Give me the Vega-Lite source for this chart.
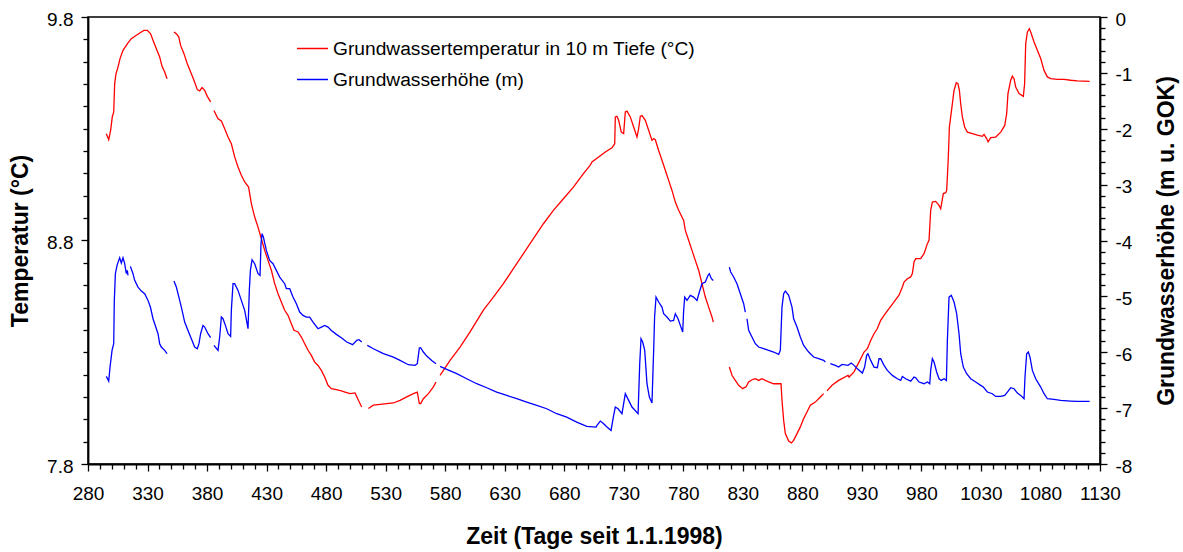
{
"$schema": "https://vega.github.io/schema/vega-lite/v6.json",
"width": 1012, "height": 447,
"autosize": {"type": "none"},
"padding": {"left": 88, "top": 17, "right": 83, "bottom": 88},
"background": "white",
"config": {
 "view": {"stroke": "black", "strokeWidth": 1.5},
 "font": "Liberation Sans",
 "axis": {"domainColor": "black", "domainWidth": 1.8, "tickColor": "black", "tickWidth": 1.3, "labelFont": "Liberation Sans", "labelFontSize": 19, "labelColor": "black", "titleFont": "Liberation Sans", "titleFontSize": 23, "titleFontWeight": "bold", "titleColor": "black", "grid": false, "labelOverlap": false, "labelFlush": false}
},
"datasets": {
"temp": [
{"day":295.4,"temp":9.278,"seg":1},{"day":297.4,"temp":9.251,"seg":1},{"day":299.0,"temp":9.293,"seg":1},{"day":300.4,"temp":9.353,"seg":1},{"day":301.6,"temp":9.375,"seg":1},{"day":302.4,"temp":9.502,"seg":1},{"day":303.5,"temp":9.546,"seg":1},{"day":305.2,"temp":9.576,"seg":1},{"day":306.9,"temp":9.614,"seg":1},{"day":309.4,"temp":9.651,"seg":1},{"day":312.2,"temp":9.673,"seg":1},{"day":313.6,"temp":9.684,"seg":1},{"day":316.4,"temp":9.703,"seg":1},{"day":320.6,"temp":9.718,"seg":1},{"day":324.8,"temp":9.733,"seg":1},{"day":327.0,"temp":9.740,"seg":1},{"day":329.8,"temp":9.740,"seg":1},{"day":332.6,"temp":9.725,"seg":1},{"day":334.6,"temp":9.696,"seg":1},{"day":337.4,"temp":9.658,"seg":1},{"day":340.2,"temp":9.621,"seg":1},{"day":342.2,"temp":9.579,"seg":1},{"day":344.4,"temp":9.554,"seg":1},{"day":346.4,"temp":9.524,"seg":1},
{"day":352.2,"temp":9.733,"seg":2},{"day":354.2,"temp":9.725,"seg":2},{"day":356.2,"temp":9.711,"seg":2},{"day":357.8,"temp":9.673,"seg":2},{"day":360.6,"temp":9.636,"seg":2},{"day":363.4,"temp":9.591,"seg":2},{"day":366.2,"temp":9.554,"seg":2},{"day":369.0,"temp":9.517,"seg":2},{"day":371.8,"temp":9.475,"seg":2},{"day":373.8,"temp":9.469,"seg":2},{"day":375.8,"temp":9.484,"seg":2},{"day":378.0,"temp":9.472,"seg":2},{"day":380.2,"temp":9.445,"seg":2},{"day":383.0,"temp":9.420,"seg":2},
{"day":385.8,"temp":9.382,"seg":3},{"day":389.2,"temp":9.345,"seg":3},{"day":392.0,"temp":9.335,"seg":3},{"day":394.8,"temp":9.300,"seg":3},{"day":397.6,"temp":9.263,"seg":3},{"day":400.4,"temp":9.233,"seg":3},{"day":403.2,"temp":9.174,"seg":3},{"day":406.0,"temp":9.129,"seg":3},{"day":408.8,"temp":9.092,"seg":3},{"day":411.6,"temp":9.062,"seg":3},{"day":414.9,"temp":9.039,"seg":3},{"day":417.2,"temp":8.965,"seg":3},{"day":420.0,"temp":8.905,"seg":3},{"day":422.8,"temp":8.860,"seg":3},{"day":425.6,"temp":8.808,"seg":3},{"day":428.4,"temp":8.756,"seg":3},{"day":431.2,"temp":8.711,"seg":3},{"day":434.0,"temp":8.667,"seg":3},{"day":436.8,"temp":8.607,"seg":3},{"day":439.6,"temp":8.562,"seg":3},{"day":442.4,"temp":8.525,"seg":3},{"day":445.2,"temp":8.488,"seg":3},{"day":448.0,"temp":8.465,"seg":3},{"day":450.8,"temp":8.428,"seg":3},{"day":453.0,"temp":8.398,"seg":3},{"day":456.4,"temp":8.391,"seg":3},{"day":459.2,"temp":8.368,"seg":3},{"day":462.0,"temp":8.338,"seg":3},{"day":464.8,"temp":8.309,"seg":3},{"day":467.6,"temp":8.286,"seg":3},{"day":470.4,"temp":8.256,"seg":3},{"day":473.2,"temp":8.241,"seg":3},{"day":476.0,"temp":8.219,"seg":3},{"day":478.8,"temp":8.189,"seg":3},{"day":481.6,"temp":8.152,"seg":3},{"day":484.4,"temp":8.137,"seg":3},{"day":488.6,"temp":8.133,"seg":3},{"day":492.8,"temp":8.127,"seg":3},{"day":495.9,"temp":8.122,"seg":3},{"day":500.1,"temp":8.115,"seg":3},{"day":504.3,"temp":8.118,"seg":3},{"day":507.1,"temp":8.085,"seg":3},{"day":509.9,"temp":8.055,"seg":3},
{"day":515.5,"temp":8.048,"seg":4},{"day":519.7,"temp":8.063,"seg":4},{"day":525.3,"temp":8.067,"seg":4},{"day":530.9,"temp":8.070,"seg":4},{"day":536.5,"temp":8.073,"seg":4},{"day":542.1,"temp":8.085,"seg":4},{"day":547.7,"temp":8.100,"seg":4},{"day":553.3,"temp":8.115,"seg":4},{"day":556.6,"temp":8.122,"seg":4},{"day":558.3,"temp":8.070,"seg":4},{"day":559.4,"temp":8.070,"seg":4},{"day":561.7,"temp":8.092,"seg":4},{"day":565.9,"temp":8.115,"seg":4},{"day":570.1,"temp":8.145,"seg":4},{"day":572.3,"temp":8.167,"seg":4},
{"day":575.7,"temp":8.197,"seg":5},{"day":578.5,"temp":8.219,"seg":5},{"day":584.1,"temp":8.264,"seg":5},{"day":592.5,"temp":8.323,"seg":5},{"day":600.9,"temp":8.391,"seg":5},{"day":612.1,"temp":8.488,"seg":5},{"day":620.5,"temp":8.547,"seg":5},{"day":628.9,"temp":8.607,"seg":5},{"day":637.3,"temp":8.674,"seg":5},{"day":645.7,"temp":8.741,"seg":5},{"day":654.1,"temp":8.808,"seg":5},{"day":662.5,"temp":8.875,"seg":5},{"day":670.9,"temp":8.935,"seg":5},{"day":679.3,"temp":8.987,"seg":5},{"day":687.7,"temp":9.039,"seg":5},{"day":696.1,"temp":9.099,"seg":5},{"day":701.7,"temp":9.136,"seg":5},{"day":703.3,"temp":9.151,"seg":5},{"day":708.9,"temp":9.174,"seg":5},{"day":714.5,"temp":9.196,"seg":5},{"day":720.1,"temp":9.215,"seg":5},{"day":722.4,"temp":9.233,"seg":5},{"day":722.9,"temp":9.353,"seg":5},{"day":724.3,"temp":9.356,"seg":5},{"day":725.7,"temp":9.338,"seg":5},{"day":727.9,"temp":9.285,"seg":5},{"day":729.9,"temp":9.278,"seg":5},{"day":731.3,"temp":9.375,"seg":5},{"day":732.7,"temp":9.379,"seg":5},{"day":735.5,"temp":9.353,"seg":5},{"day":738.3,"temp":9.308,"seg":5},{"day":741.1,"temp":9.263,"seg":5},{"day":742.5,"temp":9.300,"seg":5},{"day":743.9,"temp":9.356,"seg":5},{"day":745.3,"temp":9.359,"seg":5},{"day":748.1,"temp":9.338,"seg":5},{"day":750.9,"temp":9.293,"seg":5},{"day":753.7,"temp":9.248,"seg":5},{"day":755.1,"temp":9.256,"seg":5},{"day":756.5,"temp":9.251,"seg":5},{"day":759.3,"temp":9.203,"seg":5},{"day":762.1,"temp":9.159,"seg":5},{"day":764.9,"temp":9.114,"seg":5},{"day":767.7,"temp":9.069,"seg":5},{"day":770.5,"temp":9.024,"seg":5},{"day":773.3,"temp":8.972,"seg":5},{"day":776.1,"temp":8.935,"seg":5},{"day":778.9,"temp":8.905,"seg":5},{"day":780.3,"temp":8.890,"seg":5},{"day":781.7,"temp":8.845,"seg":5},{"day":784.5,"temp":8.801,"seg":5},{"day":787.3,"temp":8.756,"seg":5},{"day":790.1,"temp":8.711,"seg":5},{"day":792.9,"temp":8.667,"seg":5},{"day":795.7,"temp":8.607,"seg":5},{"day":798.5,"temp":8.547,"seg":5},{"day":801.3,"temp":8.502,"seg":5},{"day":804.1,"temp":8.458,"seg":5},{"day":805.2,"temp":8.435,"seg":5},
{"day":818.7,"temp":8.234,"seg":6},{"day":820.9,"temp":8.197,"seg":6},{"day":823.7,"temp":8.174,"seg":6},{"day":826.5,"temp":8.152,"seg":6},{"day":829.9,"temp":8.137,"seg":6},{"day":832.7,"temp":8.145,"seg":6},{"day":834.9,"temp":8.167,"seg":6},{"day":837.7,"temp":8.177,"seg":6},{"day":840.5,"temp":8.182,"seg":6},{"day":843.3,"temp":8.174,"seg":6},{"day":846.1,"temp":8.182,"seg":6},{"day":848.9,"temp":8.174,"seg":6},{"day":851.7,"temp":8.167,"seg":6},{"day":855.9,"temp":8.159,"seg":6},{"day":862.1,"temp":8.159,"seg":6},{"day":862.9,"temp":8.085,"seg":6},{"day":864.3,"temp":7.995,"seg":6},{"day":865.7,"temp":7.936,"seg":6},{"day":868.5,"temp":7.903,"seg":6},{"day":870.8,"temp":7.894,"seg":6},{"day":872.7,"temp":7.906,"seg":6},{"day":875.5,"temp":7.936,"seg":6},{"day":878.3,"temp":7.966,"seg":6},{"day":881.1,"temp":8.003,"seg":6},{"day":883.9,"temp":8.033,"seg":6},{"day":886.7,"temp":8.063,"seg":6},{"day":890.9,"temp":8.077,"seg":6},{"day":895.1,"temp":8.100,"seg":6},{"day":897.9,"temp":8.115,"seg":6},
{"day":900.7,"temp":8.127,"seg":7},{"day":904.9,"temp":8.152,"seg":7},{"day":910.5,"temp":8.174,"seg":7},{"day":913.3,"temp":8.182,"seg":7},{"day":918.4,"temp":8.197,"seg":7},{"day":919.2,"temp":8.189,"seg":7},{"day":923.4,"temp":8.212,"seg":7},{"day":927.6,"temp":8.256,"seg":7},{"day":931.8,"temp":8.301,"seg":7},{"day":934.6,"temp":8.316,"seg":7},{"day":937.4,"temp":8.353,"seg":7},{"day":940.2,"temp":8.383,"seg":7},{"day":943.0,"temp":8.406,"seg":7},{"day":945.8,"temp":8.443,"seg":7},{"day":948.6,"temp":8.465,"seg":7},{"day":952.8,"temp":8.495,"seg":7},{"day":957.0,"temp":8.525,"seg":7},{"day":961.2,"temp":8.555,"seg":7},{"day":964.0,"temp":8.592,"seg":7},{"day":965.4,"temp":8.614,"seg":7},{"day":968.2,"temp":8.629,"seg":7},{"day":971.0,"temp":8.637,"seg":7},{"day":972.4,"temp":8.652,"seg":7},{"day":973.8,"temp":8.704,"seg":7},{"day":975.2,"temp":8.719,"seg":7},{"day":979.4,"temp":8.719,"seg":7},{"day":982.2,"temp":8.741,"seg":7},{"day":985.0,"temp":8.786,"seg":7},{"day":986.4,"temp":8.801,"seg":7},{"day":987.8,"temp":8.935,"seg":7},{"day":989.2,"temp":8.972,"seg":7},{"day":992.0,"temp":8.975,"seg":7},{"day":994.8,"temp":8.957,"seg":7},{"day":996.2,"temp":8.942,"seg":7},{"day":998.4,"temp":9.010,"seg":7},{"day":1000.4,"temp":9.014,"seg":7},{"day":1001.2,"temp":9.024,"seg":7},{"day":1001.8,"temp":9.084,"seg":7},{"day":1002.6,"temp":9.174,"seg":7},{"day":1003.5,"temp":9.308,"seg":7},{"day":1004.6,"temp":9.353,"seg":7},{"day":1006.0,"temp":9.412,"seg":7},{"day":1007.4,"temp":9.472,"seg":7},{"day":1009.3,"temp":9.506,"seg":7},{"day":1010.7,"temp":9.502,"seg":7},{"day":1011.9,"temp":9.472,"seg":7},{"day":1013.0,"temp":9.412,"seg":7},{"day":1014.4,"temp":9.353,"seg":7},{"day":1016.3,"temp":9.308,"seg":7},{"day":1018.6,"temp":9.285,"seg":7},{"day":1022.8,"temp":9.278,"seg":7},{"day":1027.0,"temp":9.271,"seg":7},{"day":1031.2,"temp":9.266,"seg":7},{"day":1032.6,"temp":9.275,"seg":7},{"day":1034.8,"temp":9.256,"seg":7},{"day":1036.0,"temp":9.241,"seg":7},{"day":1038.2,"temp":9.260,"seg":7},{"day":1042.4,"temp":9.263,"seg":7},{"day":1046.6,"temp":9.285,"seg":7},{"day":1050.0,"temp":9.315,"seg":7},{"day":1051.6,"temp":9.367,"seg":7},{"day":1052.7,"temp":9.457,"seg":7},{"day":1055.0,"temp":9.517,"seg":7},{"day":1056.4,"temp":9.535,"seg":7},{"day":1057.8,"temp":9.524,"seg":7},{"day":1059.2,"temp":9.487,"seg":7},{"day":1062.0,"temp":9.457,"seg":7},{"day":1065.6,"temp":9.445,"seg":7},{"day":1066.7,"temp":9.502,"seg":7},{"day":1067.6,"temp":9.681,"seg":7},{"day":1069.0,"temp":9.733,"seg":7},{"day":1070.7,"temp":9.748,"seg":7},{"day":1072.3,"temp":9.725,"seg":7},{"day":1074.6,"temp":9.688,"seg":7},{"day":1077.4,"temp":9.651,"seg":7},{"day":1080.2,"temp":9.614,"seg":7},{"day":1083.0,"temp":9.561,"seg":7},{"day":1085.8,"temp":9.532,"seg":7},{"day":1088.6,"temp":9.524,"seg":7},{"day":1094.2,"temp":9.521,"seg":7},{"day":1099.8,"temp":9.521,"seg":7},{"day":1105.4,"temp":9.517,"seg":7},{"day":1111.0,"temp":9.514,"seg":7},{"day":1121.3,"temp":9.512,"seg":7}
],
"level": [
{"day":295.4,"level":-6.432,"seg":1},{"day":297.4,"level":-6.516,"seg":1},{"day":298.5,"level":-6.265,"seg":1},{"day":300.2,"level":-5.967,"seg":1},{"day":301.6,"level":-5.847,"seg":1},{"day":302.1,"level":-5.072,"seg":1},{"day":303.0,"level":-4.594,"seg":1},{"day":304.4,"level":-4.445,"seg":1},{"day":305.8,"level":-4.356,"seg":1},{"day":306.6,"level":-4.308,"seg":1},{"day":308.0,"level":-4.403,"seg":1},{"day":309.4,"level":-4.308,"seg":1},{"day":310.8,"level":-4.415,"seg":1},{"day":312.2,"level":-4.594,"seg":1},{"day":313.0,"level":-4.535,"seg":1},{"day":313.6,"level":-4.624,"seg":1},
{"day":315.6,"level":-4.463,"seg":2},{"day":317.8,"level":-4.594,"seg":2},{"day":319.2,"level":-4.714,"seg":2},{"day":322.0,"level":-4.833,"seg":2},{"day":324.8,"level":-4.905,"seg":2},{"day":327.6,"level":-4.952,"seg":2},{"day":330.4,"level":-5.072,"seg":2},{"day":332.4,"level":-5.191,"seg":2},{"day":334.6,"level":-5.400,"seg":2},{"day":337.4,"level":-5.579,"seg":2},{"day":338.8,"level":-5.668,"seg":2},{"day":340.2,"level":-5.847,"seg":2},{"day":341.6,"level":-5.907,"seg":2},{"day":344.4,"level":-5.967,"seg":2},{"day":346.4,"level":-6.026,"seg":2},
{"day":352.2,"level":-4.726,"seg":3},{"day":354.2,"level":-4.833,"seg":3},{"day":355.6,"level":-4.952,"seg":3},{"day":358.4,"level":-5.191,"seg":3},{"day":361.2,"level":-5.459,"seg":3},{"day":364.0,"level":-5.609,"seg":3},{"day":366.8,"level":-5.758,"seg":3},{"day":369.6,"level":-5.907,"seg":3},{"day":371.8,"level":-5.937,"seg":3},{"day":373.2,"level":-5.847,"seg":3},{"day":374.6,"level":-5.668,"seg":3},{"day":376.6,"level":-5.519,"seg":3},{"day":378.0,"level":-5.549,"seg":3},{"day":380.8,"level":-5.668,"seg":3},{"day":383.0,"level":-5.740,"seg":3},
{"day":385.8,"level":-5.877,"seg":4},{"day":389.2,"level":-5.967,"seg":4},{"day":390.6,"level":-5.728,"seg":4},{"day":392.0,"level":-5.370,"seg":4},{"day":393.4,"level":-5.400,"seg":4},{"day":395.4,"level":-5.519,"seg":4},{"day":397.6,"level":-5.668,"seg":4},{"day":399.8,"level":-5.716,"seg":4},{"day":400.4,"level":-5.251,"seg":4},{"day":401.8,"level":-4.773,"seg":4},{"day":403.2,"level":-4.773,"seg":4},{"day":406.0,"level":-4.893,"seg":4},{"day":408.8,"level":-5.072,"seg":4},{"day":411.6,"level":-5.251,"seg":4},{"day":414.4,"level":-5.579,"seg":4},{"day":415.5,"level":-4.893,"seg":4},{"day":416.4,"level":-4.535,"seg":4},{"day":417.8,"level":-4.344,"seg":4},{"day":420.0,"level":-4.415,"seg":4},{"day":422.8,"level":-4.594,"seg":4},{"day":424.5,"level":-4.624,"seg":4},{"day":425.3,"level":-4.057,"seg":4},{"day":426.2,"level":-3.878,"seg":4},{"day":427.3,"level":-3.938,"seg":4},{"day":429.8,"level":-4.177,"seg":4},{"day":432.6,"level":-4.356,"seg":4},{"day":435.4,"level":-4.415,"seg":4},{"day":438.2,"level":-4.535,"seg":4},{"day":441.0,"level":-4.654,"seg":4},{"day":445.2,"level":-4.773,"seg":4},{"day":446.6,"level":-4.863,"seg":4},{"day":449.4,"level":-4.863,"seg":4},{"day":452.2,"level":-5.012,"seg":4},{"day":455.0,"level":-5.131,"seg":4},{"day":457.8,"level":-5.280,"seg":4},{"day":460.6,"level":-5.340,"seg":4},{"day":463.4,"level":-5.370,"seg":4},{"day":466.2,"level":-5.370,"seg":4},{"day":469.0,"level":-5.459,"seg":4},{"day":473.2,"level":-5.579,"seg":4},{"day":476.0,"level":-5.549,"seg":4},{"day":478.8,"level":-5.519,"seg":4},{"day":481.6,"level":-5.549,"seg":4},{"day":484.4,"level":-5.609,"seg":4},{"day":488.6,"level":-5.680,"seg":4},{"day":492.8,"level":-5.740,"seg":4},{"day":497.3,"level":-5.817,"seg":4},{"day":502.3,"level":-5.865,"seg":4},{"day":505.7,"level":-5.788,"seg":4},{"day":507.6,"level":-5.776,"seg":4},{"day":509.9,"level":-5.817,"seg":4},
{"day":514.6,"level":-5.877,"seg":5},{"day":519.7,"level":-5.937,"seg":5},{"day":528.1,"level":-6.026,"seg":5},{"day":536.5,"level":-6.086,"seg":5},{"day":542.1,"level":-6.146,"seg":5},{"day":549.1,"level":-6.223,"seg":5},{"day":554.7,"level":-6.235,"seg":5},{"day":556.6,"level":-6.205,"seg":5},{"day":558.3,"level":-5.925,"seg":5},{"day":559.4,"level":-5.919,"seg":5},{"day":561.7,"level":-5.996,"seg":5},{"day":564.5,"level":-6.068,"seg":5},{"day":568.7,"level":-6.146,"seg":5},{"day":572.3,"level":-6.205,"seg":5},
{"day":575.7,"level":-6.253,"seg":6},{"day":581.3,"level":-6.307,"seg":6},{"day":589.7,"level":-6.384,"seg":6},{"day":598.1,"level":-6.474,"seg":6},{"day":606.5,"level":-6.563,"seg":6},{"day":614.9,"level":-6.635,"seg":6},{"day":623.3,"level":-6.712,"seg":6},{"day":631.7,"level":-6.772,"seg":6},{"day":640.1,"level":-6.832,"seg":6},{"day":648.5,"level":-6.892,"seg":6},{"day":656.9,"level":-6.951,"seg":6},{"day":665.3,"level":-7.011,"seg":6},{"day":673.7,"level":-7.100,"seg":6},{"day":682.1,"level":-7.160,"seg":6},{"day":690.5,"level":-7.249,"seg":6},{"day":698.9,"level":-7.327,"seg":6},{"day":706.7,"level":-7.339,"seg":6},{"day":707.5,"level":-7.309,"seg":6},{"day":710.3,"level":-7.232,"seg":6},{"day":713.1,"level":-7.279,"seg":6},{"day":715.9,"level":-7.339,"seg":6},{"day":719.3,"level":-7.399,"seg":6},{"day":721.5,"level":-7.130,"seg":6},{"day":722.9,"level":-6.981,"seg":6},{"day":725.2,"level":-7.011,"seg":6},{"day":728.5,"level":-7.100,"seg":6},{"day":731.3,"level":-6.742,"seg":6},{"day":734.1,"level":-6.862,"seg":6},{"day":736.9,"level":-6.981,"seg":6},{"day":742.0,"level":-7.100,"seg":6},{"day":743.4,"level":-6.205,"seg":6},{"day":744.5,"level":-5.758,"seg":6},{"day":745.9,"level":-5.817,"seg":6},{"day":747.6,"level":-5.967,"seg":6},{"day":749.5,"level":-6.563,"seg":6},{"day":751.5,"level":-6.802,"seg":6},{"day":753.7,"level":-6.909,"seg":6},{"day":755.1,"level":-5.967,"seg":6},{"day":755.9,"level":-5.370,"seg":6},{"day":757.1,"level":-5.012,"seg":6},{"day":759.3,"level":-5.101,"seg":6},{"day":762.1,"level":-5.191,"seg":6},{"day":763.5,"level":-5.310,"seg":6},{"day":766.3,"level":-5.370,"seg":6},{"day":769.1,"level":-5.442,"seg":6},{"day":771.9,"level":-5.430,"seg":6},{"day":773.3,"level":-5.310,"seg":6},{"day":775.6,"level":-5.400,"seg":6},{"day":777.5,"level":-5.519,"seg":6},{"day":779.5,"level":-5.638,"seg":6},{"day":780.3,"level":-5.251,"seg":6},{"day":781.2,"level":-5.012,"seg":6},{"day":783.1,"level":-5.072,"seg":6},{"day":785.9,"level":-4.982,"seg":6},{"day":788.7,"level":-5.012,"seg":6},{"day":791.5,"level":-5.072,"seg":6},{"day":793.5,"level":-4.922,"seg":6},{"day":795.7,"level":-4.773,"seg":6},{"day":798.5,"level":-4.743,"seg":6},{"day":800.8,"level":-4.624,"seg":6},{"day":801.9,"level":-4.594,"seg":6},{"day":803.6,"level":-4.684,"seg":6},{"day":805.2,"level":-4.714,"seg":6},
{"day":818.7,"level":-4.475,"seg":7},{"day":819.8,"level":-4.564,"seg":7},{"day":822.3,"level":-4.654,"seg":7},{"day":825.1,"level":-4.773,"seg":7},{"day":827.9,"level":-4.952,"seg":7},{"day":830.7,"level":-5.131,"seg":7},{"day":832.1,"level":-5.280,"seg":7},
{"day":833.5,"level":-5.400,"seg":8},{"day":834.9,"level":-5.609,"seg":8},{"day":837.7,"level":-5.728,"seg":8},{"day":840.5,"level":-5.847,"seg":8},{"day":843.3,"level":-5.907,"seg":8},{"day":847.5,"level":-5.937,"seg":8},{"day":851.7,"level":-5.967,"seg":8},{"day":855.9,"level":-5.996,"seg":8},{"day":860.1,"level":-6.038,"seg":8},{"day":861.5,"level":-5.967,"seg":8},{"day":862.9,"level":-5.191,"seg":8},{"day":864.3,"level":-4.952,"seg":8},{"day":865.7,"level":-4.905,"seg":8},{"day":868.5,"level":-4.982,"seg":8},{"day":871.3,"level":-5.191,"seg":8},{"day":872.7,"level":-5.400,"seg":8},{"day":875.5,"level":-5.549,"seg":8},{"day":878.3,"level":-5.728,"seg":8},{"day":881.1,"level":-5.877,"seg":8},{"day":885.3,"level":-5.996,"seg":8},{"day":889.5,"level":-6.086,"seg":8},{"day":893.7,"level":-6.116,"seg":8},{"day":897.9,"level":-6.146,"seg":8},{"day":899.3,"level":-6.175,"seg":8},
{"day":903.5,"level":-6.205,"seg":9},{"day":907.7,"level":-6.235,"seg":9},{"day":910.5,"level":-6.265,"seg":9},{"day":913.3,"level":-6.217,"seg":9},{"day":918.4,"level":-6.235,"seg":9},{"day":921.1,"level":-6.193,"seg":9},{"day":923.4,"level":-6.235,"seg":9},{"day":926.2,"level":-6.295,"seg":9},{"day":930.4,"level":-6.372,"seg":9},{"day":932.3,"level":-6.265,"seg":9},{"day":934.0,"level":-6.056,"seg":9},{"day":935.1,"level":-6.026,"seg":9},{"day":937.4,"level":-6.146,"seg":9},{"day":940.2,"level":-6.265,"seg":9},{"day":943.0,"level":-6.277,"seg":9},{"day":944.4,"level":-6.116,"seg":9},{"day":945.8,"level":-6.116,"seg":9},{"day":948.6,"level":-6.235,"seg":9},{"day":951.4,"level":-6.325,"seg":9},{"day":955.6,"level":-6.414,"seg":9},{"day":959.8,"level":-6.474,"seg":9},{"day":962.6,"level":-6.504,"seg":9},{"day":964.0,"level":-6.432,"seg":9},{"day":966.8,"level":-6.474,"seg":9},{"day":971.0,"level":-6.516,"seg":9},{"day":973.8,"level":-6.444,"seg":9},{"day":975.2,"level":-6.456,"seg":9},{"day":978.0,"level":-6.533,"seg":9},{"day":982.2,"level":-6.563,"seg":9},{"day":985.0,"level":-6.533,"seg":9},{"day":987.0,"level":-6.563,"seg":9},{"day":987.8,"level":-6.325,"seg":9},{"day":989.2,"level":-6.116,"seg":9},{"day":990.6,"level":-6.175,"seg":9},{"day":992.8,"level":-6.354,"seg":9},{"day":994.8,"level":-6.474,"seg":9},{"day":996.7,"level":-6.504,"seg":9},{"day":999.0,"level":-6.474,"seg":9},{"day":1001.0,"level":-6.504,"seg":9},{"day":1001.8,"level":-5.788,"seg":9},{"day":1003.2,"level":-5.012,"seg":9},{"day":1005.1,"level":-4.982,"seg":9},{"day":1007.4,"level":-5.101,"seg":9},{"day":1009.6,"level":-5.310,"seg":9},{"day":1011.6,"level":-5.668,"seg":9},{"day":1013.0,"level":-6.026,"seg":9},{"day":1015.2,"level":-6.265,"seg":9},{"day":1018.0,"level":-6.384,"seg":9},{"day":1021.4,"level":-6.474,"seg":9},{"day":1025.6,"level":-6.533,"seg":9},{"day":1029.8,"level":-6.593,"seg":9},{"day":1032.0,"level":-6.623,"seg":9},{"day":1035.4,"level":-6.712,"seg":9},{"day":1039.6,"level":-6.742,"seg":9},{"day":1042.4,"level":-6.790,"seg":9},{"day":1046.6,"level":-6.790,"seg":9},{"day":1050.0,"level":-6.772,"seg":9},{"day":1052.2,"level":-6.712,"seg":9},{"day":1055.0,"level":-6.635,"seg":9},{"day":1057.8,"level":-6.653,"seg":9},{"day":1060.6,"level":-6.730,"seg":9},{"day":1063.4,"level":-6.772,"seg":9},{"day":1066.2,"level":-6.832,"seg":9},{"day":1067.0,"level":-6.444,"seg":9},{"day":1068.4,"level":-6.026,"seg":9},{"day":1069.8,"level":-5.996,"seg":9},{"day":1071.2,"level":-6.086,"seg":9},{"day":1073.2,"level":-6.325,"seg":9},{"day":1076.0,"level":-6.474,"seg":9},{"day":1080.2,"level":-6.623,"seg":9},{"day":1083.0,"level":-6.742,"seg":9},{"day":1085.8,"level":-6.832,"seg":9},{"day":1091.4,"level":-6.844,"seg":9},{"day":1097.0,"level":-6.862,"seg":9},{"day":1105.4,"level":-6.874,"seg":9},{"day":1111.0,"level":-6.880,"seg":9},{"day":1121.3,"level":-6.880,"seg":9}
]
},
"encoding": {
 "x": {"field": "day", "type": "quantitative",
   "scale": {"domain": [280, 1130], "nice": false, "zero": false},
   "axis": {"title": "Zeit (Tage seit 1.1.1998)", "titlePadding": 22, "format": "d", "labelPadding": 13,
     "values": [280,290,300,310,320,330,340,350,360,370,380,390,400,410,420,430,440,450,460,470,480,490,500,510,520,530,540,550,560,570,580,590,600,610,620,630,640,650,660,670,680,690,700,710,720,730,740,750,760,770,780,790,800,810,820,830,840,850,860,870,880,890,900,910,920,930,940,950,960,970,980,990,1000,1010,1020,1030,1040,1050,1060,1070,1080,1090,1100,1110,1120,1130],
     "labelExpr": "(datum.value - 280) % 50 == 0 ? datum.label : ''",
     "tickSize": {"condition": {"test": "(datum.value - 280) % 50 == 0", "value": 7}, "value": 5}}}
},
"layer": [
 {
  "data": {"name": "temp"},
  "mark": {"type": "line", "strokeWidth": 1.3, "interpolate": "linear"},
  "encoding": {
   "y": {"field": "temp", "type": "quantitative",
     "scale": {"domain": [7.8, 9.8], "nice": false, "zero": false},
     "axis": {"title": "Temperatur (°C)", "orient": "left", "format": ".1f", "labelPadding": 8, "titlePadding": 14, "labelOffset": 2,
       "values": [7.8,7.9,8.0,8.1,8.2,8.3,8.4,8.5,8.6,8.7,8.8,8.9,9.0,9.1,9.2,9.3,9.4,9.5,9.6,9.7,9.8],
       "labelExpr": "(datum.value == 7.8 || datum.value == 8.8 || datum.value == 9.8) ? datum.label : ''",
       "tickSize": {"condition": {"test": "datum.value == 7.8 || datum.value == 8.8 || datum.value == 9.8", "value": 7}, "value": 5}}},
   "color": {"datum": "Grundwassertemperatur in 10 m Tiefe (°C)", "type": "nominal",
     "scale": {"domain": ["Grundwassertemperatur in 10 m Tiefe (°C)", "Grundwasserhöhe (m)"], "range": ["#ff0000", "#0000ff"]},
     "legend": {"title": null, "orient": "none", "legendX": 208, "legendY": 15, "symbolType": "stroke", "symbolSize": 961, "symbolStrokeWidth": 1.5, "labelFontSize": 19.2, "labelFont": "Liberation Sans", "labelColor": "black", "labelOffset": 4, "rowPadding": 4, "padding": 0, "labelLimit": 600}},
   "detail": {"field": "seg", "type": "nominal"}
  }
 },
 {
  "data": {"name": "level"},
  "mark": {"type": "line", "strokeWidth": 1.3, "interpolate": "linear"},
  "encoding": {
   "y": {"field": "level", "type": "quantitative",
     "scale": {"domain": [-8, 0], "nice": false, "zero": false},
     "axis": {"title": "Grundwasserhöhe (m u. GOK)", "orient": "right", "titleAngle": 270, "titleBaseline": "top", "labelPadding": 8, "titlePadding": 24, "labelOffset": 2,
       "values": [0,-0.2,-0.4,-0.6,-0.8,-1,-1.2,-1.4,-1.6,-1.8,-2,-2.2,-2.4,-2.6,-2.8,-3,-3.2,-3.4,-3.6,-3.8,-4,-4.2,-4.4,-4.6,-4.8,-5,-5.2,-5.4,-5.6,-5.8,-6,-6.2,-6.4,-6.6,-6.8,-7,-7.2,-7.4,-7.6,-7.8,-8],
       "labelExpr": "datum.value == round(datum.value) ? (datum.value < 0 ? '-' + abs(datum.value) : '0') : ''",
       "tickSize": {"condition": {"test": "datum.value == round(datum.value)", "value": 7}, "value": 5}}},
   "color": {"datum": "Grundwasserhöhe (m)", "type": "nominal"},
   "detail": {"field": "seg", "type": "nominal"}
  }
 }
],
"resolve": {"scale": {"y": "independent"}}
}
